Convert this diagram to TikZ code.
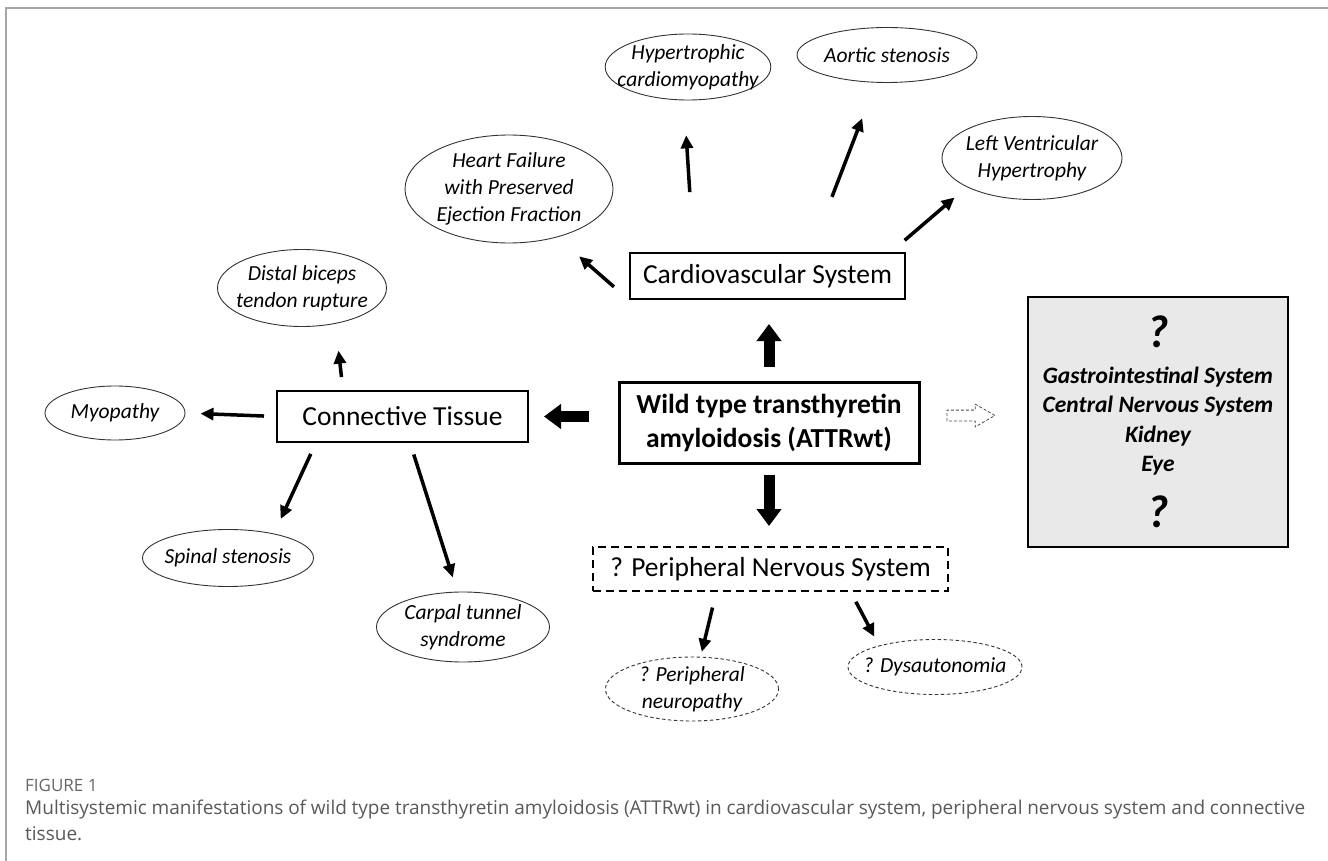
\documentclass[tikz,border=0pt]{standalone}
\usepackage{fontspec}
\setmainfont{Carlito}
\newfontfamily\capfont{Open Sans}
\usetikzlibrary{arrows.meta,positioning,calc,shapes.geometric,shapes.arrows}

\begin{document}
\begin{tikzpicture}[
    x=1pt, y=-1pt,
    oval/.style={ellipse, draw=black!80, line width=0.9pt, inner xsep=-12pt, inner ysep=-3pt,
      align=center, font=\fontsize{21.5}{27}\selectfont\itshape},
    qoval/.style={oval, dash pattern=on 3.5pt off 2.5pt},
    sysbox/.style={rectangle, draw, line width=2pt, inner sep=0pt, align=center,
      font=\fontsize{27.5}{31}\selectfont},
    arr/.style={-{Triangle[length=13pt,width=12pt]}, line width=3.5pt},
    bigarr/.style={-{Triangle[length=17pt,width=24pt]}, line width=11pt},
    hollow/.style={single arrow, draw=black!70, dash pattern=on 3pt off 2pt, line width=0.8pt,
      inner sep=5pt, minimum height=48pt, single arrow head extend=6pt, single arrow tip angle=60}
  ]
  \useasboundingbox (0,0) rectangle (1328,861);
  % frame
  \draw[gray!70, line width=1.5pt] (1328,8) -- (6,8) -- (6,861);

  % central nodes
  \node[sysbox, line width=3pt, font=\fontsize{27.5}{34}\selectfont\bfseries,
    minimum width=300pt, minimum height=81pt] (wild) at (769,422.5)
    {Wild type transthyretin\\amyloidosis (ATTRwt)};
  \node[sysbox, minimum width=275pt, minimum height=46pt] (cardio) at (767.5,276) {Cardiovascular System};
  \node[sysbox, minimum width=251pt, minimum height=51pt] (conn) at (402.5,416.5) {Connective Tissue};
  \node[sysbox, dash pattern=on 8pt off 5pt, minimum width=355pt, minimum height=44pt] (pns) at (770.5,569)
    {? Peripheral Nervous System};
  \node[rectangle, draw, fill=gray!17, line width=1.3pt, minimum width=260pt, minimum height=250pt,
    align=center, font=\fontsize{23.5}{29.5}\selectfont\bfseries\itshape] (other) at (1158,422)
    {{\fontsize{46}{46}\selectfont ?}\\[6pt]
     Gastrointestinal System\\ Central Nervous System\\ Kidney\\ Eye\\[19pt]
     {\fontsize{46}{46}\selectfont ?}};

  % cardiovascular
  \node[oval, minimum width=208pt, minimum height=108pt] (hfpef) at (509,189)
    {Heart Failure\\with Preserved\\Ejection Fraction};
  \node[oval, minimum width=162pt, minimum height=66pt] (hcm) at (688,67) {Hypertrophic\\cardiomyopathy};
  \node[oval, minimum width=180pt, minimum height=55pt] (aortic) at (887,55) {Aortic stenosis};
  \node[oval, minimum width=180pt, minimum height=83pt] (lvh) at (1032,158) {Left Ventricular\\Hypertrophy};

  % connective tissue
  \node[oval, minimum width=169pt, minimum height=77pt] (distal) at (302,288) {Distal biceps\\tendon rupture};
  \node[oval, minimum width=140pt, minimum height=54pt] (myo) at (115,413) {Myopathy};
  \node[oval, minimum width=171pt, minimum height=57pt] (spinal) at (228,558) {Spinal stenosis};
  \node[oval, minimum width=173pt, minimum height=70pt] (carpal) at (463,627) {Carpal tunnel\\syndrome};

  % peripheral nervous system
  \node[qoval, minimum width=173pt, minimum height=64pt] (neuro) at (692,689) {? Peripheral\\neuropathy};
  \node[qoval, minimum width=174pt, minimum height=55pt] (dysauto) at (935,667) {? Dysautonomia};

  % arrows
  \draw[bigarr, shorten <=14pt, shorten >=24pt] (wild.north) -- (wild.north |- cardio.south);
  \draw[bigarr, shorten <=29pt, shorten >=15pt] (wild.west |- conn.east) -- (conn.east);
  \draw[bigarr, shorten <=10pt, shorten >=20pt] (wild.south) -- (wild.south |- pns.north);
  \node[hollow, right=26pt of wild, yshift=7pt] (more) {};

  \draw[arr, shorten <=20pt, shorten >=29pt] (cardio.south west) -- (hfpef.-45);
  \draw[arr, shorten <=60pt, shorten >=35pt] (cardio.162) -- (hcm.-97);
  \draw[arr, shorten <=59pt, shorten >=38pt] (cardio.29) -- (aortic.-112);
  \draw[arr, shorten <=18pt, shorten >=16pt] (cardio.11) -- (lvh.-156);

  \draw[arr, shorten <=13pt, shorten >=27pt] (conn.156) -- (distal.-47);
  \draw[arr, shorten <=12pt, shorten >=15pt] (conn.west) -- (myo.east);
  \draw[arr, shorten <=12pt, shorten >=16pt] (conn.197) -- (spinal.28);
  \draw[arr, shorten <=12pt, shorten >=15pt] (conn.-74) -- (carpal.99);

  \draw[arr, shorten <=16pt, shorten >=5pt] (pns.-157.5) -- (neuro.75);
  \draw[arr, shorten <=11pt, shorten >=10pt] (pns.-16) -- (dysauto.159);

  % caption
  \node[anchor=base west, inner sep=0pt, text=black!60, font=\capfont\fontsize{17}{20}\selectfont]
    (fig) at (25,791) {FIGURE 1};
  \node[anchor=north west, inner sep=0pt, text width=1280pt, align=justify, text=black!65,
    font=\capfont\fontsize{19}{26}\selectfont] (cap) at (25,800)
    {Multisystemic manifestations of wild type transthyretin amyloidosis (ATTRwt) in cardiovascular system,
     peripheral nervous system and connective\linebreak tissue.};
\end{tikzpicture}
\end{document}
